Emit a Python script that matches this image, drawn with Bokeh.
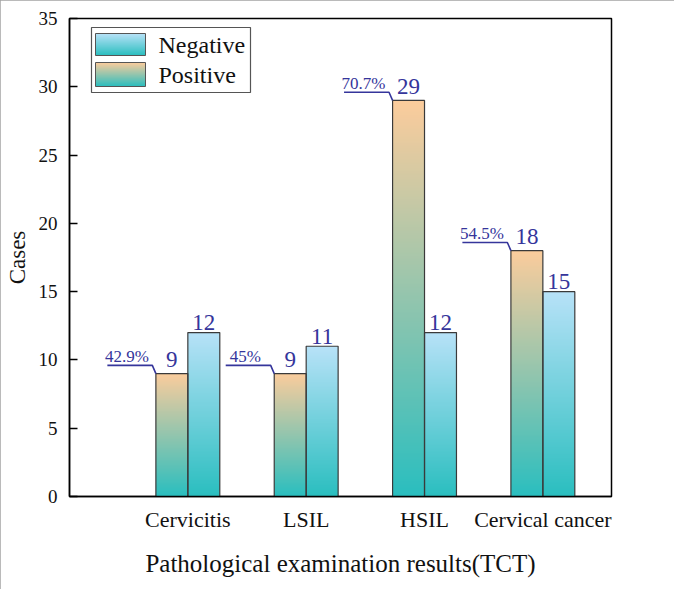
import numpy as np
from bokeh.plotting import figure
from bokeh.models import Range1d, FixedTicker
from bokeh.core.properties import value
from bokeh.embed import file_html
from bokeh.resources import INLINE

# ---- data ----
categories = ["Cervicitis", "LSIL", "HSIL", "Cervical cancer"]
positive = [9, 9, 29, 18]
negative = [12, 11, 12, 15]
pct_labels = ["42.9%", "45%", "70.7%", "54.5%"]
y_ticks = [0, 5, 10, 15, 20, 25, 30, 35]
series_names = ["Negative", "Positive"]

# ---- style ----
SERIF = "Liberation Serif"
BLUE = "#35359b"
TEAL = (42, 190, 191)
PEACH = (252, 204, 156)
SKY = (184, 226, 248)
BAR_W = 0.27
X_MAX = 4.58
Y_MAX = 35


def gradient(top, bottom, n=256):
    t = np.linspace(0, 1, n)[:, None]  # row 0 = bottom
    rgb = np.array(bottom, float)[None, :] * (1 - t) + np.array(top, float)[None, :] * t
    arr = np.zeros((n, 1, 4), dtype=np.uint8)
    arr[:, 0, :3] = np.round(rgb).astype(np.uint8)
    arr[:, 0, 3] = 255
    return arr.view(np.uint32).reshape(n, 1)


pos_img = gradient(PEACH, TEAL)
neg_img = gradient(SKY, TEAL)

p = figure(width=674, height=589,
           x_range=Range1d(0, X_MAX), y_range=Range1d(0, Y_MAX),
           output_backend="svg", toolbar_location=None, tools="",
           min_border_left=69, min_border_right=63,
           min_border_top=18, min_border_bottom=93,
           styles={"outline": "2px solid #a3a3a3", "outline-offset": "-2px"})
p.xgrid.visible = False
p.ygrid.visible = False
p.outline_line_color = "black"
p.outline_line_width = 1.5
p.outline_line_alpha = 1.0

n = len(categories)
xs = np.arange(1, n + 1, dtype=float)
pos_left = xs - BAR_W
neg_left = xs.copy()

# gradient-filled bars
p.image_rgba(image=[pos_img] * n, x=list(pos_left), y=[0] * n,
             dw=[BAR_W] * n, dh=positive)
p.image_rgba(image=[neg_img] * n, x=list(neg_left), y=[0] * n,
             dw=[BAR_W] * n, dh=negative)
# bar outlines
p.vbar(x=list(pos_left + BAR_W / 2), top=positive, width=BAR_W,
       fill_alpha=0, line_color="#3a3a3a", line_width=1.2)
p.vbar(x=list(neg_left + BAR_W / 2), top=negative, width=BAR_W,
       fill_alpha=0, line_color="#3a3a3a", line_width=1.2)

# value labels
p.text(x=list(pos_left + BAR_W / 2), y=positive, text=[str(v) for v in positive],
       text_font=value(SERIF), text_font_size="23px", text_color=BLUE,
       text_align="center", text_baseline="alphabetic", y_offset=-14)
p.text(x=list(neg_left + BAR_W / 2), y=negative, text=[str(v) for v in negative],
       text_font=value(SERIF), text_font_size="23px", text_color=BLUE,
       text_align="center", text_baseline="alphabetic", y_offset=-10)

# percentage leader lines + labels
lead_xs, lead_ys = [], []
for left, v in zip(pos_left, positive):
    lead_xs.append([left - 0.41, left - 0.03, left])
    lead_ys.append([v + 0.6, v + 0.6, v])
p.multi_line(xs=lead_xs, ys=lead_ys, line_color=BLUE, line_width=1.6)
p.text(x=list(pos_left - 0.245), y=[v + 0.6 for v in positive], text=pct_labels,
       text_font=value(SERIF), text_font_size="17px", text_color=BLUE,
       text_align="center", text_baseline="alphabetic", y_offset=-9)


# ---- legend (drawn manually, gradient swatches) ----
def dx(px):
    return (px - 69) / 542 * X_MAX


def dy(py):
    return (496 - py) / 478 * Y_MAX


p.quad(left=[dx(91)], right=[dx(250)], top=[dy(27)], bottom=[dy(92)],
       fill_color="white", line_color="#555555", line_width=1.2)
p.image_rgba(image=[neg_img, pos_img], x=[dx(95), dx(95)], y=[dy(55), dy(86)],
             dw=[dx(145) - dx(95)] * 2, dh=[dy(33) - dy(55), dy(62) - dy(86)])
p.quad(left=[dx(95), dx(95)], right=[dx(145), dx(145)],
       top=[dy(33), dy(62)], bottom=[dy(55), dy(86)],
       fill_alpha=0, line_color="#555555", line_width=1)
p.text(x=[dx(158), dx(158)], y=[dy(44), dy(74)], text=series_names,
       text_font=value(SERIF), text_font_size="24px", text_color="#111111",
       text_baseline="middle", text_align="left")

# ---- axes ----
p.yaxis.ticker = FixedTicker(ticks=y_ticks)
p.yaxis.axis_label = "Cases"
p.yaxis.axis_label_text_font = SERIF
p.yaxis.axis_label_text_font_size = "23px"
p.yaxis.axis_label_text_font_style = "normal"
p.yaxis.axis_label_text_color = "#111111"
p.yaxis.axis_label_standoff = 6
p.yaxis.major_label_text_font = SERIF
p.yaxis.major_label_text_font_size = "19px"
p.yaxis.major_label_text_color = "#111111"
p.yaxis.major_label_standoff = 12
p.yaxis.major_tick_in = 8
p.yaxis.major_tick_out = 0
p.yaxis.minor_tick_line_color = None
p.yaxis.axis_line_color = "black"
p.yaxis.axis_line_width = 1.5
p.yaxis.major_tick_line_width = 1.3

p.xaxis.ticker = FixedTicker(ticks=list(xs))
p.xaxis.major_label_overrides = {int(x): c for x, c in zip(xs, categories)}
p.xaxis.axis_label = "Pathological examination results(TCT)"
p.xaxis.axis_label_text_font = SERIF
p.xaxis.axis_label_text_font_size = "25px"
p.xaxis.axis_label_text_font_style = "normal"
p.xaxis.axis_label_text_color = "#111111"
p.xaxis.axis_label_standoff = 15
p.xaxis.major_label_text_font = SERIF
p.xaxis.major_label_text_font_size = "22px"
p.xaxis.major_label_text_color = "#111111"
p.xaxis.major_label_standoff = 10
p.xaxis.major_tick_in = 0
p.xaxis.major_tick_out = 0
p.xaxis.minor_tick_line_color = None
p.xaxis.axis_line_color = "black"
p.xaxis.axis_line_width = 1.5

open("out.html", "w").write(file_html(p, INLINE))
